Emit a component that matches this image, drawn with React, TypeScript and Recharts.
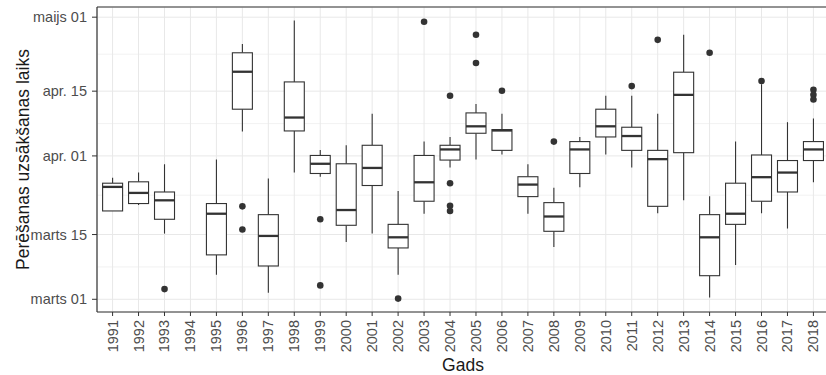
import React from "react";
import {
  ComposedChart,
  Bar,
  XAxis,
  YAxis,
  CartesianGrid,
  ReferenceLine,
} from "recharts";

// values are days after 1 March
const years = [
  "1991", "1992", "1993", "1994", "1995", "1996", "1997", "1998", "1999", "2000",
  "2001", "2002", "2003", "2004", "2005", "2006", "2007", "2008", "2009", "2010",
  "2011", "2012", "2013", "2014", "2015", "2016", "2017", "2018",
];
const lowWhisker = [
  19.1, 20.4, 14.2, null, 5.3, 36.3, 1.4, 27.4, 26.5, 12.4,
  14.2, 5.3, 18.5, 28.5, 30.2, 31.3, 18.5, 11.3, 24.2, 31.3,
  28.5, 18.6, 21.4, 0.4, 7.4, 18.6, 15.3, 25.3,
];
const q1 = [
  19.1, 20.7, 17.3, null, 9.6, 41.1, 7.2, 36.4, 27.2, 16.0,
  24.6, 11.1, 21.2, 30.1, 35.9, 32.2, 22.2, 14.7, 27.2, 35.1,
  32.2, 20.1, 31.7, 5.1, 16.2, 21.2, 23.2, 30.0,
];
const median = [
  24.3, 23.0, 21.4, null, 18.5, 49.2, 13.7, 39.3, 29.3, 19.3,
  28.4, 13.4, 25.3, 32.4, 37.4, 36.5, 24.8, 17.9, 32.4, 37.4,
  35.3, 30.3, 44.2, 13.4, 18.5, 26.4, 27.4, 32.4,
];
const q3 = [
  25.1, 25.4, 23.2, null, 20.7, 53.3, 18.3, 47.0, 31.1, 29.3,
  33.3, 16.2, 31.1, 33.3, 40.3, 36.7, 26.5, 20.9, 34.1, 41.1,
  37.2, 32.2, 49.1, 18.3, 25.1, 31.2, 30.0, 34.1,
];
const highWhisker = [
  26.3, 27.4, 29.2, null, 30.2, 55.2, 26.1, 60.3, 32.3, 33.3,
  40.1, 23.4, 34.1, 35.1, 42.2, 40.1, 29.2, 24.1, 35.1, 44.0,
  44.0, 40.1, 57.2, 22.3, 34.1, 46.5, 38.3, 39.1,
];
const outliers: number[][] = [
  [], [], [2.2], [], [], [20.1, 15.1], [], [], [17.3, 3.0], [],
  [], [0.15], [60.0], [44.0, 25.1, 20.2, 19.1], [57.2, 51.1], [45.1], [], [34.1], [], [],
  [46.1], [56.1], [], [53.3], [], [47.2], [], [45.3, 44.2, 43.2],
];

const yTicks = [0, 14, 31, 45, 61];
const yTickLabels = ["marts 01", "marts 15", "apr. 01", "apr. 15", "maijs 01"];
const yMinorTicks = [7, 22.5, 38, 53];

const data = years.map((year, i) => ({
  year,
  low: lowWhisker[i],
  q1: q1[i],
  median: median[i],
  q3: q3[i],
  high: highWhisker[i],
  outliers: outliers[i],
}));

const FONT = '"Liberation Sans", Arial, sans-serif';
const INK = "#333333";

// box drawn inside the whisker range bar, other values placed on the same scale
const BoxShape = (props: any) => {
  const { x, y, width, height, payload } = props;
  if (!payload || payload.high == null) return null;
  const top = Math.min(y, y + height);
  const span = Math.abs(height);
  const range = payload.high - payload.low;
  const toY = (v: number) => top + ((payload.high - v) / range) * span;
  const cx = x + width / 2;
  const yQ1 = toY(payload.q1);
  const yQ3 = toY(payload.q3);
  const yMed = toY(payload.median);
  return (
    <g>
      <line x1={cx} x2={cx} y1={toY(payload.high)} y2={yQ3} stroke={INK} strokeWidth={1.1} />
      <line x1={cx} x2={cx} y1={yQ1} y2={toY(payload.low)} stroke={INK} strokeWidth={1.1} />
      <rect x={x} y={yQ3} width={width} height={yQ1 - yQ3} fill="#ffffff" stroke={INK} strokeWidth={1.1} />
      <line x1={x} x2={x + width} y1={yMed} y2={yMed} stroke={INK} strokeWidth={2.3} />
      {payload.outliers.map((v: number, k: number) => (
        <circle key={k} cx={cx} cy={toY(v)} r={3.3} fill={INK} />
      ))}
    </g>
  );
};

const YearTick = ({ x, y, payload }: any) => {
  const tx = x + 5;
  const ty = y + 2;
  return (
    <text
      x={tx}
      y={ty}
      transform={`rotate(-90, ${tx}, ${ty})`}
      textAnchor="end"
      fill="#4d4d4d"
      fontSize={14.5}
      fontFamily={FONT}
    >
      {payload.value}
    </text>
  );
};

const YTitle = ({ viewBox }: any) => {
  const cx = viewBox.x + 23;
  const cy = viewBox.y + viewBox.height / 2;
  return (
    <text
      x={cx}
      y={cy}
      transform={`rotate(-90, ${cx}, ${cy})`}
      textAnchor="middle"
      dominantBaseline="central"
      fill="#1a1a1a"
      fontSize={17.5}
      fontFamily={FONT}
    >
      Perēšanas uzsākšanas laiks
    </text>
  );
};

const XTitle = ({ viewBox }: any) => (
  <text
    x={463}
    y={viewBox.y + viewBox.height - 4}
    textAnchor="middle"
    fill="#1a1a1a"
    fontSize={17.5}
    fontFamily={FONT}
  >
    Gads
  </text>
);

export default function App() {
  return (
    <div
      style={{
        position: "absolute",
        left: 0,
        top: 0,
        width: 826,
        height: 375,
        overflow: "hidden",
        background: "#ffffff",
      }}
    >
      <ComposedChart
        width={829}
        height={375}
        data={data}
        margin={{ top: 7, right: 0, bottom: 0, left: 0 }}
      >
        <CartesianGrid
          horizontalValues={yMinorTicks}
          vertical={false}
          stroke="#efefef"
          strokeWidth={0.8}
        />
        <CartesianGrid stroke="#e8e8e8" strokeWidth={1} />
        <XAxis
          dataKey="year"
          type="category"
          height={63}
          padding={{ left: 2.6, right: 2.6 }}
          interval={0}
          tickSize={4}
          tickMargin={2}
          tick={<YearTick />}
          axisLine={{ stroke: INK, strokeWidth: 1.2 }}
          tickLine={{ stroke: INK }}
          label={<XTitle />}
        />
        <YAxis
          type="number"
          width={97}
          domain={[-2.75, 63.2]}
          allowDataOverflow
          ticks={yTicks}
          tickFormatter={(v: number) => yTickLabels[yTicks.indexOf(v)]}
          tickSize={5}
          tickMargin={5}
          tick={{ fill: "#4d4d4d", fontSize: 14.5, fontFamily: FONT }}
          axisLine={{ stroke: INK, strokeWidth: 1.2 }}
          tickLine={{ stroke: INK }}
          label={<YTitle />}
        />
        <ReferenceLine y={63.2} stroke={INK} strokeWidth={1.2} />
        <Bar
          dataKey={(d: any) => (d.high == null ? null : [d.low, d.high])}
          barSize={20}
          shape={<BoxShape />}
          isAnimationActive={false}
        />
      </ComposedChart>
    </div>
  );
}
